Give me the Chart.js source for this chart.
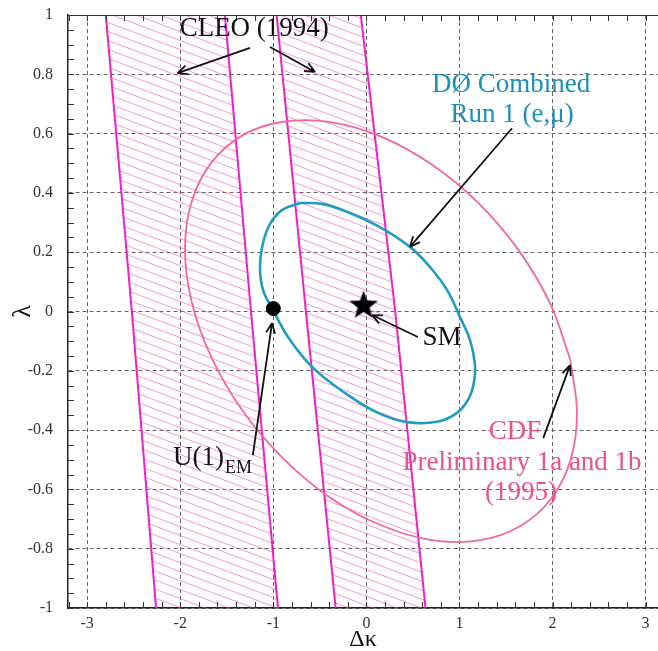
<!DOCTYPE html>
<html>
<head>
<meta charset="utf-8">
<script src="https://cdn.jsdelivr.net/npm/chart.js@4.4.1/dist/chart.umd.min.js"></script>
<style>
  html, body { margin: 0; padding: 0; background: #fff; }
  #wrap { width: 658px; height: 651px; }
</style>
</head>
<body>
<div id="wrap"><canvas id="tgcChart" width="658" height="651"></canvas></div>
<script>
// axis ticks
const kappaTicks = [-3, -2, -1, 0, 1, 2, 3];
const lambdaTicks = [-1, -0.8, -0.6, -0.4, -0.2, 0, 0.2, 0.4, 0.6, 0.8, 1];

// CLEO (1994) allowed bands: Δκ of each edge at λ = 1, 0, -1
const cleoLambda = [1, 0, -1];
const cleoBandALeft = [-2.80, -2.52, -2.26];
const cleoBandARight = [-1.52, -1.24, -0.95];
const cleoBandBLeft = [-0.965, -0.65, -0.33];
const cleoBandBRight = [-0.06, 0.31, 0.635];

// DØ combined Run 1 (e,μ) contour
const d0Kappa = [-0.713, -0.477, -0.230, 0.125, 0.468, 0.683, 0.866, 1.006, 1.113, 1.167, 1.156, 1.102, 0.973, 0.759, 0.436, 0.125, -0.230, -0.584, -0.842, -1.003, -1.111, -1.143, -1.111, -1.036, -0.907, -0.713];
const d0Lambda = [0.366, 0.363, 0.339, 0.288, 0.218, 0.150, 0.073, -0.019, -0.096, -0.180, -0.238, -0.292, -0.342, -0.372, -0.373, -0.342, -0.275, -0.187, -0.086, 0.005, 0.073, 0.150, 0.231, 0.295, 0.342, 0.366];

// CDF preliminary 1a and 1b (1995) contour, starting where its arrow points
const cdfKappa = [2.191, 2.263, 2.191, 1.980, 1.646, 1.210, 0.702, 0.157, -0.388, -0.896, -1.332, -1.666, -1.877, -1.949, -1.877, -1.666, -1.332, -0.896, -0.388, 0.157, 0.702, 1.210, 1.646, 1.980, 2.191];
const cdfLambda = [-0.163, -0.342, -0.503, -0.633, -0.725, -0.772, -0.771, -0.721, -0.628, -0.495, -0.334, -0.154, 0.032, 0.211, 0.371, 0.502, 0.594, 0.640, 0.639, 0.590, 0.496, 0.364, 0.202, 0.023, -0.163];

// Standard Model and U(1)EM points
const smPoint = [-0.03, 0.02];
const u1Point = [-1.0, 0.01];

const zip = (xs, ys) => xs.map((v, i) => ({ x: v, y: ys[i] }));
const band = (left, right) => zip(left, cleoLambda).concat(zip(right, cleoLambda).reverse());

function hatchPattern() {
  const c = document.createElement('canvas');
  c.width = 24; c.height = 9;
  const g = c.getContext('2d');
  g.strokeStyle = 'rgba(238, 80, 205, 0.6)';
  g.lineWidth = 1;
  for (let k = -1; k <= 1; k++) {
    g.beginPath();
    g.moveTo(0, k * 9);
    g.lineTo(24, k * 9 + 9);
    g.stroke();
  }
  return g.createPattern(c, 'repeat');
}

function starImage(r) {
  const c = document.createElement('canvas');
  c.width = c.height = 2 * r + 2;
  const g = c.getContext('2d');
  g.fillStyle = '#000';
  g.beginPath();
  for (let i = 0; i < 10; i++) {
    const rad = i % 2 ? r * 0.42 : r;
    const ang = -Math.PI / 2 + i * Math.PI / 5;
    g.lineTo(r + 1 + rad * Math.cos(ang), r + 1 + rad * Math.sin(ang));
  }
  g.closePath();
  g.fill();
  return c;
}

const hatch = hatchPattern();
const MAGENTA = '#f01ec4';
const CDF_PINK = '#f2689c';
const D0_BLUE = '#1e9cc4';

const edge = (kappa) => ({
  data: zip(kappa, cleoLambda), showLine: true, borderColor: MAGENTA,
  borderWidth: 2, pointRadius: 0, order: 4
});

const datasets = [
  { data: band(cleoBandALeft, cleoBandARight), showLine: true, fill: 'shape',
    backgroundColor: hatch, borderWidth: 0, pointRadius: 0, order: 5 },
  { data: band(cleoBandBLeft, cleoBandBRight), showLine: true, fill: 'shape',
    backgroundColor: hatch, borderWidth: 0, pointRadius: 0, order: 5 },
  edge(cleoBandALeft), edge(cleoBandARight), edge(cleoBandBLeft), edge(cleoBandBRight),
  { data: zip(cdfKappa, cdfLambda), showLine: true, borderColor: CDF_PINK,
    borderWidth: 1.8, tension: 0.34, pointRadius: 0, order: 3 },
  { data: zip(d0Kappa, d0Lambda), showLine: true, borderColor: D0_BLUE,
    borderWidth: 2.6, tension: 0.4, pointRadius: 0, order: 2 },
  { data: [{ x: smPoint[0], y: smPoint[1] }], pointStyle: starImage(15), order: 1 },
  { data: [{ x: u1Point[0], y: u1Point[1] }], pointStyle: 'circle', pointRadius: 7,
    backgroundColor: '#000', borderColor: '#000', order: 1 }
];

// labels and pointer arrows, in data coordinates
const notes = [
  { text: 'CLEO (1994)', x: -1.205, y: 0.953, color: '#111' },
  { text: 'DØ Combined', x: 1.554, y: 0.764, color: '#1a8fb8' },
  { text: 'Run 1 (e,μ)', x: 1.565, y: 0.662, color: '#1a8fb8' },
  { text: 'SM', x: 0.812, y: -0.089, color: '#111' },
  { text: 'CDF', x: 1.597, y: -0.406, color: '#ee4f8f' },
  { text: 'Preliminary 1a and 1b', x: 1.672, y: -0.511, color: '#ee4f8f' },
  { text: '(1995)', x: 1.66, y: -0.612, color: '#ee4f8f' }
];
const arrows = [
  [-1.25, 0.889, -2.03, 0.804],
  [-1.035, 0.892, -0.552, 0.808],
  [1.565, 0.618, 0.468, 0.218],
  [0.553, -0.086, 0.06, -0.012],
  [-1.22, -0.484, -1.014, -0.039],
  [1.90, -0.427, 2.188, -0.181]
];

const SERIF = '"Liberation Serif", "Times New Roman", serif';

const overlay = {
  id: 'overlay',
  afterDatasetsDraw(chart) {
    const { ctx, chartArea: a, scales: { x, y } } = chart;
    ctx.save();

    // frame top and minor ticks
    ctx.strokeStyle = '#333';
    ctx.lineWidth = 1;
    ctx.beginPath();
    ctx.moveTo(a.left, a.top + 0.5);
    ctx.lineTo(a.right, a.top + 0.5);
    for (let i = -16; i <= 15; i++) {
      const px = Math.round(x.getPixelForValue(i * 0.2)) + 0.5;
      if (px < a.left || px > a.right) continue;
      ctx.moveTo(px, a.bottom); ctx.lineTo(px, a.bottom - 6);
      ctx.moveTo(px, a.top); ctx.lineTo(px, a.top + 6);
    }
    for (let i = -20; i <= 20; i++) {
      const py = Math.round(y.getPixelForValue(i * 0.05)) + 0.5;
      ctx.moveTo(a.left, py); ctx.lineTo(a.left + 6, py);
    }
    ctx.stroke();

    // arrows
    ctx.strokeStyle = '#111';
    ctx.lineWidth = 1.8;
    for (const [x1, y1, x2, y2] of arrows) {
      const p1 = [x.getPixelForValue(x1), y.getPixelForValue(y1)];
      const p2 = [x.getPixelForValue(x2), y.getPixelForValue(y2)];
      const ang = Math.atan2(p2[1] - p1[1], p2[0] - p1[0]);
      ctx.beginPath();
      ctx.moveTo(p1[0], p1[1]);
      ctx.lineTo(p2[0], p2[1]);
      for (const s of [-1, 1]) {
        ctx.moveTo(p2[0], p2[1]);
        ctx.lineTo(p2[0] - 11 * Math.cos(ang + s * 0.42), p2[1] - 11 * Math.sin(ang + s * 0.42));
      }
      ctx.stroke();
    }

    // text labels
    ctx.textAlign = 'center';
    ctx.textBaseline = 'middle';
    ctx.font = '27px ' + SERIF;
    for (const n of notes) {
      ctx.fillStyle = n.color;
      ctx.fillText(n.text, x.getPixelForValue(n.x), y.getPixelForValue(n.y));
    }

    // U(1) with EM subscript
    ctx.textAlign = 'left';
    ctx.fillStyle = '#111';
    const ux = x.getPixelForValue(-2.077), uy = y.getPixelForValue(-0.494);
    ctx.fillText('U(1)', ux, uy);
    const w = ctx.measureText('U(1)').width;
    ctx.font = '18px ' + SERIF;
    ctx.fillText('EM', ux + w + 1, uy + 10);

    ctx.restore();
  }
};

const tickFont = { family: SERIF, size: 16 };

new Chart(document.getElementById('tgcChart'), {
  type: 'scatter',
  data: { datasets },
  options: {
    responsive: false,
    animation: false,
    events: [],
    layout: { autoPadding: false, padding: { top: 15, right: 0, left: 0, bottom: 0 } },
    plugins: { legend: { display: false }, tooltip: { enabled: false } },
    scales: {
      x: {
        type: 'linear', min: -3.206, max: 3.133,
        afterBuildTicks: s => { s.ticks = kappaTicks.map(v => ({ value: v })); },
        afterFit: s => { s.height = 43; s.paddingLeft = 0; s.paddingRight = 0; },
        grid: { color: '#666', lineWidth: 1, drawTicks: false },
        border: { display: true, color: '#222', width: 1.5, dash: [4, 3] },
        ticks: { padding: 6, color: '#333', font: tickFont, maxRotation: 0, autoSkip: false,
          callback: v => String(v) },
        title: { display: true, text: 'Δκ', color: '#111', padding: 0,
          font: { family: SERIF, size: 24, lineHeight: 0.9 } }
      },
      y: {
        type: 'linear', min: -1, max: 1,
        afterBuildTicks: s => { s.ticks = lambdaTicks.map(v => ({ value: v })); },
        afterFit: s => { s.width = 68; s.paddingTop = 0; s.paddingBottom = 0; },
        grid: { color: '#666', lineWidth: 1, drawTicks: false },
        border: { display: true, color: '#222', width: 1.5, dash: [4, 3] },
        ticks: { padding: 15, color: '#333', font: tickFont, autoSkip: false,
          callback: v => String(+v.toFixed(1)) },
        title: { display: true, text: 'λ', color: '#111', padding: { top: 10, bottom: 0 },
          font: { family: SERIF, size: 26, lineHeight: 1 } }
      }
    }
  },
  plugins: [overlay]
});
</script>
</body>
</html>
